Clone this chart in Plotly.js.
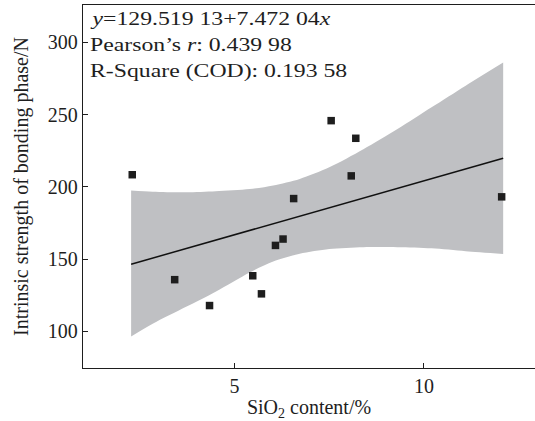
<!DOCTYPE html>
<html>
<head>
<meta charset="utf-8">
<script src="https://cdn.plot.ly/plotly-3.0.1.min.js"></script>
<style>
  html, body { margin: 0; padding: 0; background: #fff; overflow: hidden; }
  #chart { width: 535px; height: 421px; }
  /* statistics box is set in a horizontally widened face */
  #chart .annotation-text {
    transform-box: fill-box;
    transform-origin: 0 50%;
    transform: scaleX(1.25);
  }
</style>
</head>
<body>
<div id="chart"></div>
<script>
// Measured samples: SiO2 content (%) vs intrinsic strength of the bonding phase (N)
const sio2 = [2.3, 3.42, 4.34, 5.48, 5.71, 6.08, 6.28, 6.56, 7.55, 8.20, 8.08, 12.05];
const strength = [208.4, 135.8, 117.9, 138.5, 126.0, 159.5, 163.9, 191.9, 245.8, 233.6, 207.6, 193.1];

// Linear fit parameters and statistics
const intercept = 129.51913;
const slope = 7.47204;
const fitRange = [2.27, 12.09];

// 95% confidence band of the fit
const bandX     = [2.27, 2.84, 3.72, 4.5, 5.40, 6.02, 6.72, 7.5, 8.4, 9.3, 10.2, 11.1, 12.09];
const bandLower = [96.5, 105.3, 117.0, 127.5, 140.8, 148.4, 153.7, 157.0, 158.3, 158.3, 157.5, 155.5, 153.6];
const bandUpper = [197.4, 196.6, 196.2, 197.0, 198.5, 201.0, 205.5, 213.5, 226.0, 240.0, 255.0, 270.0, 286.0];

const statLines = [
  '<i>y</i>=129.519 13+7.472 04<i>x</i>',
  'Pearson\u2019s <i>r</i>: 0.439 98',
  'R-Square (COD): 0.193 58'
];

const serif = 'Liberation Serif, Times New Roman, serif';
const ink = '#1e1e1e';

const fitY = fitRange.map(v => intercept + slope * v);

const traces = [
  {
    x: bandX, y: bandLower, type: 'scatter', mode: 'lines',
    line: { width: 0, shape: 'spline', smoothing: 0.8 },
    hoverinfo: 'skip', showlegend: false
  },
  {
    x: bandX, y: bandUpper, type: 'scatter', mode: 'lines',
    line: { width: 0, shape: 'spline', smoothing: 0.8 },
    fill: 'tonexty', fillcolor: '#bfc0c3',
    hoverinfo: 'skip', showlegend: false
  },
  {
    x: fitRange, y: fitY, type: 'scatter', mode: 'lines',
    line: { color: '#111', width: 1.5 },
    showlegend: false
  },
  {
    x: sio2, y: strength, type: 'scatter', mode: 'markers',
    marker: { symbol: 'square', size: 7.5, color: ink, line: { width: 0 } },
    showlegend: false
  }
];

const statY = [19, 45, 71];
const plotTop = 5, plotBottom = 368.3;
const annotations = statLines.map((t, i) => ({
  text: t, xref: 'paper', yref: 'paper',
  x: 0.012, y: (plotBottom - statY[i]) / (plotBottom - plotTop),
  xanchor: 'left', yanchor: 'middle', showarrow: false,
  font: { family: serif, size: 19, color: ink }
}));

const layout = {
  width: 535, height: 421,
  margin: { l: 83, r: 0, t: 5, b: 53 },
  paper_bgcolor: '#fff', plot_bgcolor: '#fff',
  font: { family: serif, size: 20, color: ink },
  xaxis: {
    range: [1, 12.93], tickvals: [5, 10], ticktext: ['5', '10'],
    ticks: 'inside', ticklen: 5, tickwidth: 1, tickcolor: ink,
    showline: true, linecolor: ink, linewidth: 1.3, mirror: true,
    showgrid: false, zeroline: false,
    tickfont: { family: serif, size: 20, color: ink },
    title: { text: 'SiO<sub>2</sub> content/%', font: { family: serif, size: 20, color: ink }, standoff: 3 }
  },
  yaxis: {
    range: [74.7, 325.8], tickvals: [100, 150, 200, 250, 300],
    ticks: 'inside', ticklen: 5, tickwidth: 1, tickcolor: ink,
    showline: true, linecolor: ink, linewidth: 1.3,
    showgrid: false, zeroline: false,
    tickfont: { family: serif, size: 20, color: ink },
    title: { text: 'Intrinsic strength of bonding phase/N', font: { family: serif, size: 20, color: ink }, standoff: 13 }
  },
  annotations: annotations
};

Plotly.newPlot('chart', traces, layout, { displayModeBar: false, staticPlot: true });
</script>
</body>
</html>
